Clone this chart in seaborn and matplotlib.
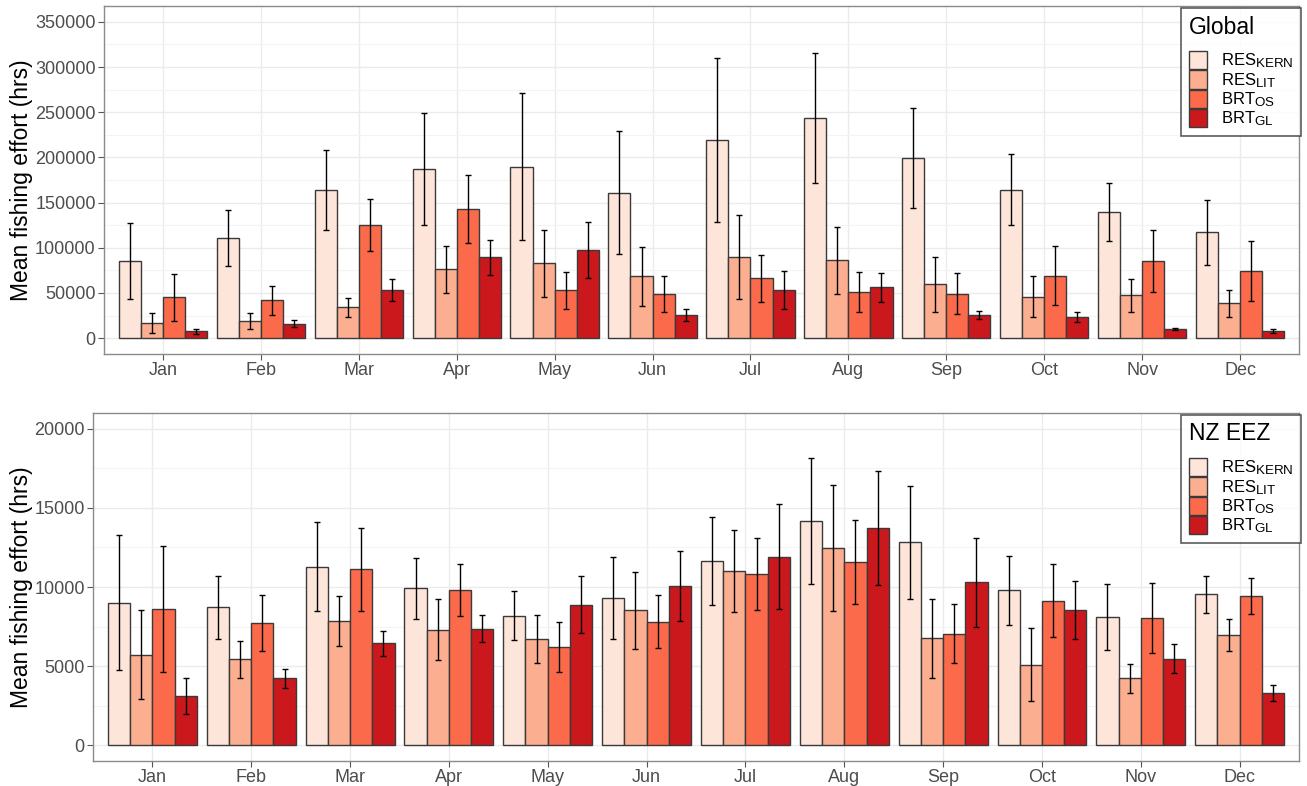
import numpy as np
import pandas as pd
import matplotlib
matplotlib.use("Agg")
import matplotlib.pyplot as plt
import matplotlib._mathtext as _mathtext
from matplotlib.patches import Patch
from matplotlib.ticker import MultipleLocator, FuncFormatter
import seaborn as sns

months = ["Jan", "Feb", "Mar", "Apr", "May", "Jun",
          "Jul", "Aug", "Sep", "Oct", "Nov", "Dec"]
methods = ["RES_KERN", "RES_LIT", "BRT_OS", "BRT_GL"]
method_labels = [r"$\mathrm{RES}_{\mathrm{KERN}}$", r"$\mathrm{RES}_{\mathrm{LIT}}$",
                 r"$\mathrm{BRT}_{\mathrm{OS}}$", r"$\mathrm{BRT}_{\mathrm{GL}}$"]
palette = ["#FEE5D9", "#FCAE91", "#FB6A4A", "#CB181D"]

# Global: mean monthly fishing effort (hrs) and error half-widths
global_kern = [85300, 110800, 163900, 186800, 189700, 161000, 219300, 243300, 199400, 164300, 139200, 117000]
global_kern_err = [42000, 31000, 44000, 62000, 81000, 68000, 90500, 72000, 55000, 39300, 32100, 35800]
global_lit = [17000, 18800, 34000, 76000, 82700, 68300, 89700, 86000, 59400, 46100, 47300, 38400]
global_lit_err = [11000, 9000, 11000, 26000, 37000, 32500, 46500, 36700, 30500, 22700, 18200, 15000]
global_os = [45400, 41700, 125200, 142500, 52800, 49100, 66100, 51300, 49100, 69000, 85300, 74500]
global_os_err = [26000, 16000, 29000, 37700, 20000, 20000, 26400, 21800, 22500, 32500, 34700, 33000]
global_gl = [7750, 16200, 53200, 89400, 97500, 25500, 53500, 56100, 25500, 23600, 10000, 7750]
global_gl_err = [2700, 3800, 12000, 19000, 31000, 6800, 21000, 15700, 4400, 5900, 1100, 2400]

# NZ EEZ: mean monthly fishing effort (hrs) and error half-widths
nz_kern = [9010, 8715, 11280, 9915, 8190, 9285, 11640, 14150, 12820, 9790, 8085, 9535]
nz_kern_err = [4270, 2010, 2810, 1935, 1550, 2580, 2800, 3990, 3570, 2200, 2085, 1180]
nz_lit = [5725, 5430, 7850, 7304, 6715, 8525, 11010, 12460, 6757, 5095, 4230, 6945]
nz_lit_err = [2790, 1170, 1580, 1925, 1515, 2420, 2620, 3980, 2515, 2285, 925, 1020]
nz_os = [8630, 7746, 11114, 9790, 6210, 7810, 10800, 11600, 7050, 9135, 8040, 9430]
nz_os_err = [3980, 1770, 2610, 1650, 1600, 1685, 2285, 2660, 1885, 2315, 2190, 1115]
nz_gl = [3115, 4230, 6441, 7370, 8885, 10040, 11915, 13725, 10290, 8570, 5470, 3305]
nz_gl_err = [1115, 590, 790, 865, 1780, 2220, 3335, 3620, 2820, 1830, 915, 515]

sns.set_theme(style="white")
plt.rcParams["font.family"] = ["Liberation Sans", "DejaVu Sans"]
plt.rcParams["text.color"] = "black"
plt.rcParams["mathtext.fontset"] = "custom"
plt.rcParams["mathtext.rm"] = "Liberation Sans"
plt.rcParams["mathtext.it"] = "Liberation Sans:italic"
plt.rcParams["mathtext.bf"] = "Liberation Sans:bold"
# slightly larger subscripts in the legend labels
_mathtext.SHRINK_FACTOR = 0.8

W, H = 1307, 786
fig = plt.figure(figsize=(W / 100, H / 100), dpi=100)


def make_frame(means, errs):
    rows = []
    for m, vals, es in zip(methods, means, errs):
        for mon, v, e in zip(months, vals, es):
            rows.append({"month": mon, "method": m, "effort": v, "err": e})
    return pd.DataFrame(rows)


def draw_panel(rect, df, title, major, minor, ylim):
    l, t, r, b = rect
    ax = fig.add_axes([l / W, 1 - b / H, (r - l) / W, (b - t) / H])
    sns.barplot(data=df, x="month", y="effort", hue="method",
                order=months, hue_order=methods, palette=palette,
                width=0.9, gap=0, errorbar=None, edgecolor="#3a3a3a",
                linewidth=1.0, saturation=1, legend=False, ax=ax, zorder=3)
    # error bars at the centre of each drawn bar
    for cont, m in zip(ax.containers, methods):
        sub = df[df["method"] == m].set_index("month").loc[months]
        xs = [p.get_x() + p.get_width() / 2 for p in cont.patches]
        ys = [p.get_height() for p in cont.patches]
        ax.errorbar(xs, ys, yerr=sub["err"].values, fmt="none",
                    ecolor="black", elinewidth=1.0, capsize=2.5,
                    capthick=1.0, zorder=4)
    ax.set_xlim(-0.6, 11.6)
    ax.set_ylim(*ylim)
    ax.yaxis.set_major_locator(MultipleLocator(major))
    ax.yaxis.set_minor_locator(MultipleLocator(minor))
    ax.yaxis.set_major_formatter(FuncFormatter(lambda v, p: f"{int(round(v))}"))
    ax.grid(True, which="major", color="#EBEBEB", linewidth=1.0, zorder=0)
    ax.grid(True, which="minor", axis="y", color="#F4F4F4", linewidth=0.8, zorder=0)
    ax.set_axisbelow(True)
    for s in ax.spines.values():
        s.set_color("#8a8a8a")
        s.set_linewidth(1.0)
    ax.tick_params(axis="both", which="major", length=4, width=0.8,
                   color="#555555", labelcolor="#4D4D4D", labelsize=13,
                   left=True, bottom=True, pad=2)
    ax.tick_params(axis="y", which="minor", length=0)
    ax.set_xlabel("")
    ax.set_ylabel("Mean fishing effort (hrs)", fontsize=16.5, color="black")
    ax.yaxis.set_label_coords(33 / W, 1 - (t + b) / 2 / H, transform=fig.transFigure)
    handles = [Patch(facecolor=c, edgecolor="#3a3a3a", linewidth=1.0) for c in palette]
    leg = ax.legend(handles, method_labels, title=title, loc="upper right",
                    bbox_to_anchor=(1301 / W, 1 - (t + 2) / H),
                    bbox_transform=fig.transFigure, borderaxespad=0,
                    fontsize=12, title_fontsize=16.5, frameon=True, fancybox=False,
                    handlelength=1.1, handleheight=1.3, labelspacing=0.0,
                    handletextpad=0.85, borderpad=0.45, labelcolor="black")
    leg.get_title().set_color("black")
    leg.get_frame().set_edgecolor("#333333")
    leg.get_frame().set_linewidth(1.2)
    leg._legend_box.align = "left"
    leg._legend_box.sep = 9
    return ax


global_df = make_frame([global_kern, global_lit, global_os, global_gl],
                       [global_kern_err, global_lit_err, global_os_err, global_gl_err])
nz_df = make_frame([nz_kern, nz_lit, nz_os, nz_gl],
                   [nz_kern_err, nz_lit_err, nz_os_err, nz_gl_err])

draw_panel((104, 6, 1299, 354), global_df, "Global", 50000, 25000, (-17500, 367500))
draw_panel((93, 413, 1299, 761), nz_df, "NZ EEZ", 5000, 2500, (-1000, 21000))

fig.savefig("out.png", dpi=100, facecolor="white")
